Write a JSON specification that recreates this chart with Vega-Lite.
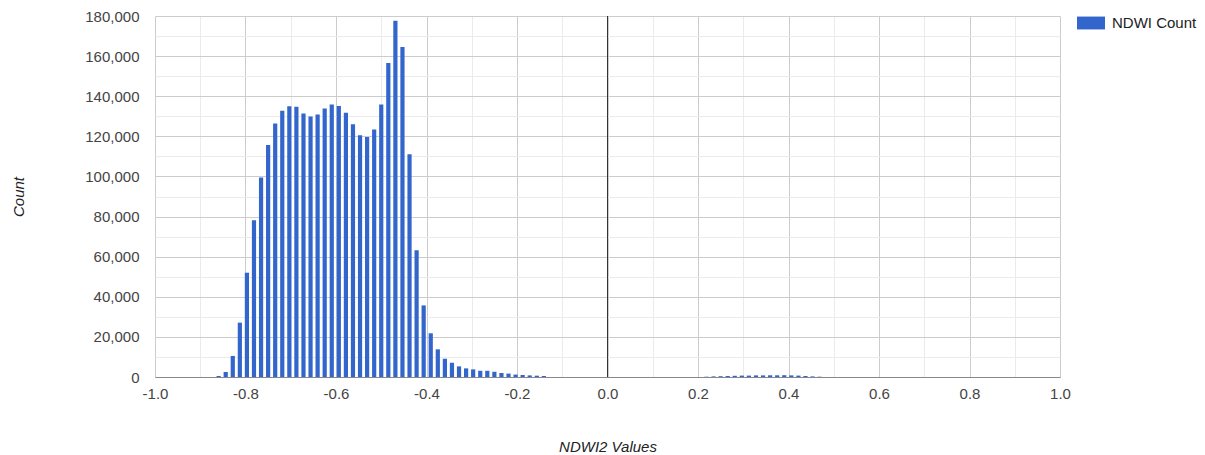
{
  "$schema": "https://vega.github.io/schema/vega-lite/v6.json",
  "width": 905,
  "height": 361,
  "autosize": "none",
  "padding": {"left": 155, "top": 16, "right": 145, "bottom": 78},
  "background": "white",
  "config": {
    "view": {"stroke": null},
    "font": "Liberation Sans"
  },
  "data": {
    "values": [
      {"ndwi": -0.859375, "count": 500},
      {"ndwi": -0.84375, "count": 2500},
      {"ndwi": -0.828125, "count": 10500},
      {"ndwi": -0.8125, "count": 27100},
      {"ndwi": -0.796875, "count": 52000},
      {"ndwi": -0.78125, "count": 78100},
      {"ndwi": -0.765625, "count": 99500},
      {"ndwi": -0.75, "count": 115700},
      {"ndwi": -0.734375, "count": 126400},
      {"ndwi": -0.71875, "count": 132700},
      {"ndwi": -0.703125, "count": 135000},
      {"ndwi": -0.6875, "count": 134700},
      {"ndwi": -0.671875, "count": 131400},
      {"ndwi": -0.65625, "count": 129900},
      {"ndwi": -0.640625, "count": 130900},
      {"ndwi": -0.625, "count": 133900},
      {"ndwi": -0.609375, "count": 135900},
      {"ndwi": -0.59375, "count": 135100},
      {"ndwi": -0.578125, "count": 131700},
      {"ndwi": -0.5625, "count": 126000},
      {"ndwi": -0.546875, "count": 120500},
      {"ndwi": -0.53125, "count": 119700},
      {"ndwi": -0.515625, "count": 123400},
      {"ndwi": -0.5, "count": 135900},
      {"ndwi": -0.484375, "count": 156600},
      {"ndwi": -0.46875, "count": 177600},
      {"ndwi": -0.453125, "count": 164600},
      {"ndwi": -0.4375, "count": 111100},
      {"ndwi": -0.421875, "count": 63200},
      {"ndwi": -0.40625, "count": 35700},
      {"ndwi": -0.390625, "count": 21800},
      {"ndwi": -0.375, "count": 13800},
      {"ndwi": -0.359375, "count": 9100},
      {"ndwi": -0.34375, "count": 7100},
      {"ndwi": -0.328125, "count": 5300},
      {"ndwi": -0.3125, "count": 4300},
      {"ndwi": -0.296875, "count": 3800},
      {"ndwi": -0.28125, "count": 3100},
      {"ndwi": -0.265625, "count": 3100},
      {"ndwi": -0.25, "count": 2600},
      {"ndwi": -0.234375, "count": 2000},
      {"ndwi": -0.21875, "count": 1700},
      {"ndwi": -0.203125, "count": 1200},
      {"ndwi": -0.1875, "count": 1000},
      {"ndwi": -0.171875, "count": 800},
      {"ndwi": -0.15625, "count": 650},
      {"ndwi": -0.140625, "count": 500},
      {"ndwi": 0.21875, "count": 150},
      {"ndwi": 0.234375, "count": 300},
      {"ndwi": 0.25, "count": 400},
      {"ndwi": 0.265625, "count": 500},
      {"ndwi": 0.28125, "count": 600},
      {"ndwi": 0.296875, "count": 700},
      {"ndwi": 0.3125, "count": 700},
      {"ndwi": 0.328125, "count": 800},
      {"ndwi": 0.34375, "count": 800},
      {"ndwi": 0.359375, "count": 850},
      {"ndwi": 0.375, "count": 850},
      {"ndwi": 0.390625, "count": 900},
      {"ndwi": 0.40625, "count": 800},
      {"ndwi": 0.421875, "count": 700},
      {"ndwi": 0.4375, "count": 500},
      {"ndwi": 0.453125, "count": 300},
      {"ndwi": 0.46875, "count": 150}
    ]
  },
  "layer": [
    {
      "mark": {"type": "bar", "width": 4.2},
      "encoding": {
        "x": {
          "field": "ndwi",
          "type": "quantitative",
          "scale": {"domain": [-1, 1], "nice": false, "zero": false, "padding": 0},
          "axis": {
            "title": "NDWI2 Values",
            "titleFontStyle": "italic",
            "titleFontWeight": "normal",
            "titleFontSize": 15,
            "titleColor": "#222222",
            "titlePadding": 38,
            "values": [-1, -0.9, -0.8, -0.7, -0.6, -0.5, -0.4, -0.3, -0.2, -0.1, 0, 0.1, 0.2, 0.3, 0.4, 0.5, 0.6, 0.7, 0.8, 0.9, 1],
            "labelExpr": "abs(round(datum.value*10)) % 2 == 0 ? replace(format(datum.value, '.1f'), '\u2212', '-') : ''",
            "labelFontSize": 15,
            "labelColor": "#444444",
            "labelPadding": 9,
            "labelOverlap": false,
            "labelFlush": false,
            "ticks": false,
            "domain": true,
            "domainColor": "#888888",
            "grid": true,
            "gridColor": {"condition": {"test": "abs(round(datum.value*10)) % 2 == 0", "value": "#cccccc"}, "value": "#ebebeb"}
          }
        },
        "y": {
          "field": "count",
          "type": "quantitative",
          "scale": {"domain": [0, 180000], "nice": false},
          "axis": {
            "title": "Count",
            "titleFontStyle": "italic",
            "titleFontWeight": "normal",
            "titleFontSize": 15,
            "titleColor": "#222222",
            "titlePadding": 58,
            "values": [0, 10000, 20000, 30000, 40000, 50000, 60000, 70000, 80000, 90000, 100000, 110000, 120000, 130000, 140000, 150000, 160000, 170000, 180000],
            "labelExpr": "round(datum.value/10000) % 2 == 0 ? format(datum.value, ',d') : ''",
            "labelFontSize": 15,
            "labelColor": "#444444",
            "labelPadding": 16,
            "labelOverlap": false,
            "ticks": false,
            "domain": false,
            "grid": true,
            "gridColor": {"condition": {"test": "round(datum.value/10000) % 2 == 0", "value": "#cccccc"}, "value": "#ebebeb"}
          }
        },
        "color": {
          "datum": "NDWI Count",
          "scale": {"range": ["#3366cc"]},
          "legend": {
            "title": null,
            "orient": "none",
            "legendX": 922,
            "legendY": -7,
            "padding": 0,
            "symbolType": "M-1,-0.46H1V0.46H-1Z",
            "symbolSize": 784,
            "symbolStrokeWidth": 0,
            "labelFontSize": 15,
            "labelColor": "#222222",
            "labelOffset": 7
          }
        }
      }
    },
    {
      "data": {"values": [{"zero": 0}]},
      "mark": {"type": "rule", "color": "#333333", "strokeWidth": 1},
      "encoding": {"x": {"field": "zero", "type": "quantitative"}}
    }
  ]
}
